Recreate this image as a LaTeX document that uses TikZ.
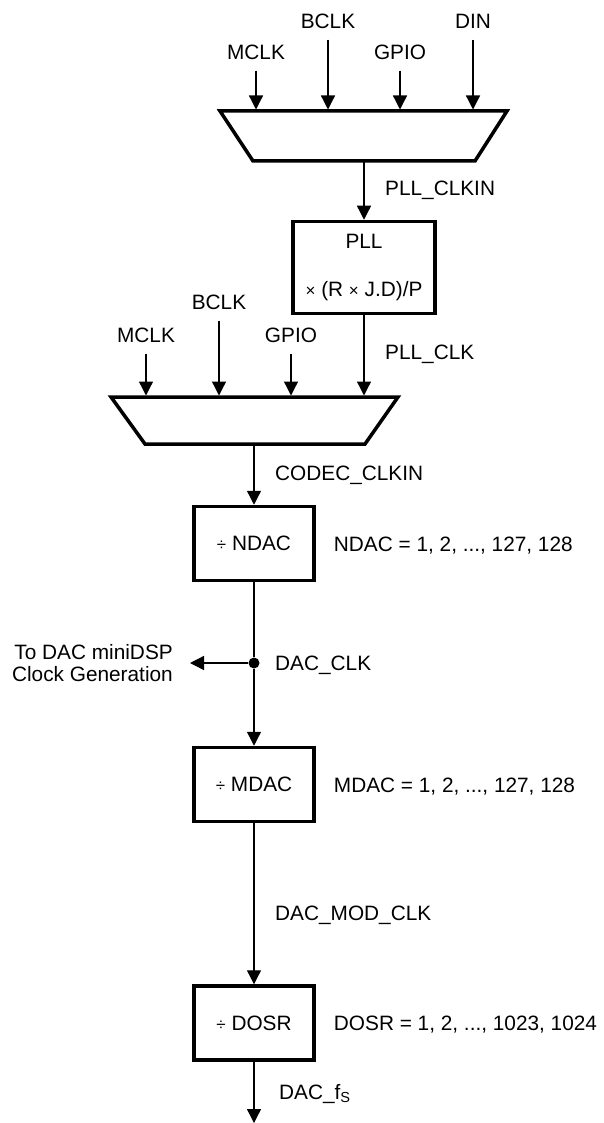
\documentclass[tikz,border=0pt]{standalone}
\usepackage{fontspec}
\setmainfont{Liberation Sans}
\usetikzlibrary{arrows.meta,positioning}
\newcommand\opsym[1]{{\fontsize{17}{17}\selectfont #1}}

\begin{document}
\begin{tikzpicture}[x=1pt,y=-1pt,
  font=\fontsize{20.8}{22}\selectfont,
  wire/.style={line width=1.3pt},
  sig/.style={line width=1.3pt,-{Triangle[width=14pt,length=14pt]}},
  muxbody/.style={line width=3.5pt,line join=miter},
  blk/.style={draw,line width=3.5pt,minimum width=120pt,minimum height=74pt,inner sep=0pt},
  lbl/.style={inner sep=0pt,text height=15pt,text depth=0pt}]
\useasboundingbox (0,0) rectangle (603,1123);
% input mux of the PLL
\node[lbl] (mclkA) at (256,52) {MCLK};
\node[lbl] (bclkA) at (328,21) {BCLK};
\node[lbl] (gpioA) at (400,52) {GPIO};
\node[lbl] (dinA) at (473,21) {DIN};
\draw[muxbody] (220,111) -- (507,111) -- (475,161) -- (253,161) -- cycle;
\coordinate (muxAtop) at (364,109.5);
\coordinate (muxAout) at (364,161);
\foreach \n in {mclkA,bclkA,gpioA,dinA}
  \draw[sig,shorten <=11pt] (\n) -- (\n |- muxAtop);
\node[blk,minimum width=142pt,minimum height=92pt,align=center] (pll) at (364,267.5)
  {PLL\\[26pt]\opsym{×} (R \opsym{×} J.D)/P};
\draw[sig] (muxAout) -- (pll);
\node[lbl,anchor=west] (pllclkin) at (385,188) {PLL\_CLKIN};
% codec clock mux
\node[lbl] (mclkB) at (146,335) {MCLK};
\node[lbl] (bclkB) at (219,302) {BCLK};
\node[lbl] (gpioB) at (291,335) {GPIO};
\draw[muxbody] (111,397) -- (398,397) -- (365,444) -- (145,444) -- cycle;
\coordinate (muxBtop) at (254,395.5);
\coordinate (muxBout) at (254,444);
\foreach \n in {mclkB,bclkB,gpioB}
  \draw[sig,shorten <=11pt] (\n) -- (\n |- muxBtop);
\draw[sig] (pll) -- (pll |- muxBtop);
\node[lbl,anchor=west] (pllclk) at (385,352) {PLL\_CLK};
% dividers
\node[blk] (ndac) at (254,543.5) {\opsym{÷} NDAC};
\draw[sig] (muxBout) -- (ndac);
\node[lbl,anchor=west] (codecclkin) at (275,473) {CODEC\_CLKIN};
\node[lbl,right=18pt of ndac] (ndacval) {NDAC = 1, 2, ..., 127, 128};
\node[circle,fill,inner sep=0pt,minimum size=11pt] (tap) at (254,663) {};
\draw[wire] (ndac) -- (tap);
\node[inner sep=0pt,anchor=east,align=right] (todsp) at (173,663)
  {To DAC miniDSP\\Clock Generation};
\draw[sig,shorten >=17pt] (tap) -- (todsp.east);
\node[lbl,anchor=west] (dacclk) at (275,663) {DAC\_CLK};
\node[blk] (mdac) at (254,784.5) {\opsym{÷} MDAC};
\draw[sig] (tap) -- (mdac);
\node[lbl,right=18pt of mdac] (mdacval) {MDAC = 1, 2, ..., 127, 128};
\node[blk] (dosr) at (254,1023) {\opsym{÷} DOSR};
\draw[sig] (mdac) -- (dosr);
\node[lbl,anchor=west] (dacmodclk) at (275,913) {DAC\_MOD\_CLK};
\node[lbl,right=18pt of dosr] (dosrval) {DOSR = 1, 2, ..., 1023, 1024};
\coordinate (fsout) at (254,1123);
\draw[sig] (dosr) -- (fsout);
\node[lbl,anchor=west] (dacfs) at (279,1092) {DAC\_f\textsubscript{S}};
\end{tikzpicture}
\end{document}
